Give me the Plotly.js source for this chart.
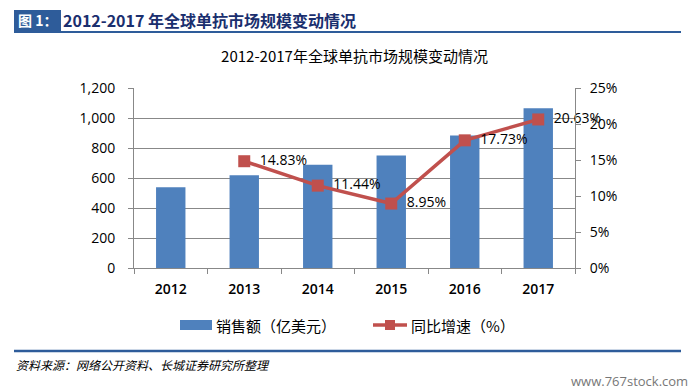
<!DOCTYPE html>
<html><head><meta charset="utf-8">
<script src="https://cdn.plot.ly/plotly-3.0.1.min.js"></script>
<style>html,body{margin:0;padding:0;background:#fff;}#chart{width:699px;height:392px;}</style>
</head><body><div id="chart"></div>
<script>
const years = ['2012','2013','2014','2015','2016','2017'];
const sales = [538, 618, 688, 750, 883, 1065];
const growthYears = ['2013','2014','2015','2016','2017'];
const growth = [14.83, 11.44, 8.95, 17.73, 20.63];
const leftTicks = [0,200,400,600,800,1000,1200];
const leftTickText = ['0','200','400','600','800','1,000','1,200'];
const rightTicks = [0,5,10,15,20,25];
const rightTickText = ['0%','5%','10%','15%','20%','25%'];
const salesName = '销售额（亿美元）';
const growthName = '同比增速（%）';

const font = '"Open Sans","Noto Sans CJK SC",sans-serif';
const cjk = '"Noto Sans CJK SC","Noto Sans",sans-serif';
const BLUE = '#4f81bd', RED = '#c0504d';

// pixel -> paper helpers (plot area: x 134..575, y 88..268)
const px = x => (x - 134) / 441;
const py = y => (268 - y) / 180;

const traces = [
  {type:'bar', x:years, y:sales, name:salesName, marker:{color:BLUE}, yaxis:'y', showlegend:false},
  {type:'scatter', mode:'lines+markers+text', x:growthYears, y:growth, name:growthName, yaxis:'y2', showlegend:false,
   line:{color:RED, width:3.5}, marker:{symbol:'square', size:12, color:RED},
   text:growth.map(v => '\u2002' + v.toFixed(2) + '%'), textposition:'middle right',
   textfont:{family:font, size:14, color:'#000'}, cliponaxis:false}
];

const layout = {
  width:699, height:392,
  margin:{l:134, r:124, t:88, b:124},
  paper_bgcolor:'#fff', plot_bgcolor:'#fff',
  bargap:0.6,
  showlegend:false,
  title:{text:'2012-2017年全球单抗市场规模变动情况', font:{family:cjk, size:15, color:'#000'}, x:0.5, xanchor:'center', y:0.855, yanchor:'middle', xref:'paper'},
  xaxis:{type:'category', categoryarray:years, showline:true, linecolor:'#888', linewidth:1,
    ticks:'outside', tickson:'boundaries', ticklen:5, tickcolor:'#888', ticklabelstandoff:8,
    tickfont:{family:font, size:14, color:'#000', weight:600}, showgrid:false},
  yaxis:{range:[0,1200], tickvals:leftTicks, ticktext:leftTickText, showline:true, linecolor:'#888',
    ticks:'outside', ticklen:5, tickcolor:'#888', showgrid:true, gridcolor:'#888', gridwidth:1, ticklabelstandoff:10,
    tickfont:{family:font, size:14, color:'#000'}, zeroline:false},
  yaxis2:{range:[0,25], overlaying:'y', side:'right', tickvals:rightTicks, ticktext:rightTickText,
    showline:true, linecolor:'#888', ticks:'outside', ticklen:5, tickcolor:'#888', showgrid:false, ticklabelstandoff:6,
    tickfont:{family:font, size:14, color:'#000'}, zeroline:false},
  shapes:[
    {type:'rect', xref:'paper', yref:'paper', x0:px(14), x1:px(61), y0:py(10), y1:py(31), fillcolor:'#2e5c9a', line:{width:0}, layer:'above'},
    {type:'line', xref:'paper', yref:'paper', x0:px(14), x1:px(681), y0:py(32), y1:py(32), line:{color:'#2e5c9a', width:2}},
    {type:'line', xref:'paper', yref:'paper', x0:px(14), x1:px(681), y0:py(351), y1:py(351), line:{color:'#2e5c9a', width:2.5}},
    // legend
    {type:'rect', xref:'paper', yref:'paper', x0:px(180), x1:px(212), y0:py(320), y1:py(330), fillcolor:BLUE, line:{width:0}},
    {type:'line', xref:'paper', yref:'paper', x0:px(373), x1:px(407), y0:py(325), y1:py(325), line:{color:RED, width:3.5}},
    {type:'rect', xref:'paper', yref:'paper', x0:px(385), x1:px(395), y0:py(320), y1:py(330), fillcolor:RED, line:{width:0}}
  ],
  annotations:[
    {text:'<b>图 1：</b>', xref:'paper', yref:'paper', x:px(16), y:py(20), xanchor:'left', yanchor:'middle', showarrow:false, font:{family:cjk, size:14, color:'#fff'}},
    {text:'<b>2012-2017 年全球单抗市场规模变动情况</b>', xref:'paper', yref:'paper', x:px(61), y:py(20), xanchor:'left', yanchor:'middle', showarrow:false, font:{family:'"Noto Sans CJK SC",serif', size:16, color:'#1a2f6e'}},
    {text:salesName, xref:'paper', yref:'paper', x:px(214), y:py(325), xanchor:'left', yanchor:'middle', showarrow:false, font:{family:cjk, size:15, color:'#000'}},
    {text:growthName, xref:'paper', yref:'paper', x:px(409), y:py(325), xanchor:'left', yanchor:'middle', showarrow:false, font:{family:cjk, size:15, color:'#000'}},
    {text:'<i>资料来源：网络公开资料、长城证券研究所整理</i>', xref:'paper', yref:'paper', x:px(14), y:py(364), xanchor:'left', yanchor:'middle', showarrow:false, font:{family:cjk, size:12, color:'#000'}},
    {text:'www.767stock.com', xref:'paper', yref:'paper', x:px(690), y:py(381), xanchor:'right', yanchor:'middle', showarrow:false, font:{family:font, size:13, color:'#777'}}
  ]
};
Plotly.newPlot('chart', traces, layout, {displayModeBar:false, staticPlot:true});
</script></body></html>
